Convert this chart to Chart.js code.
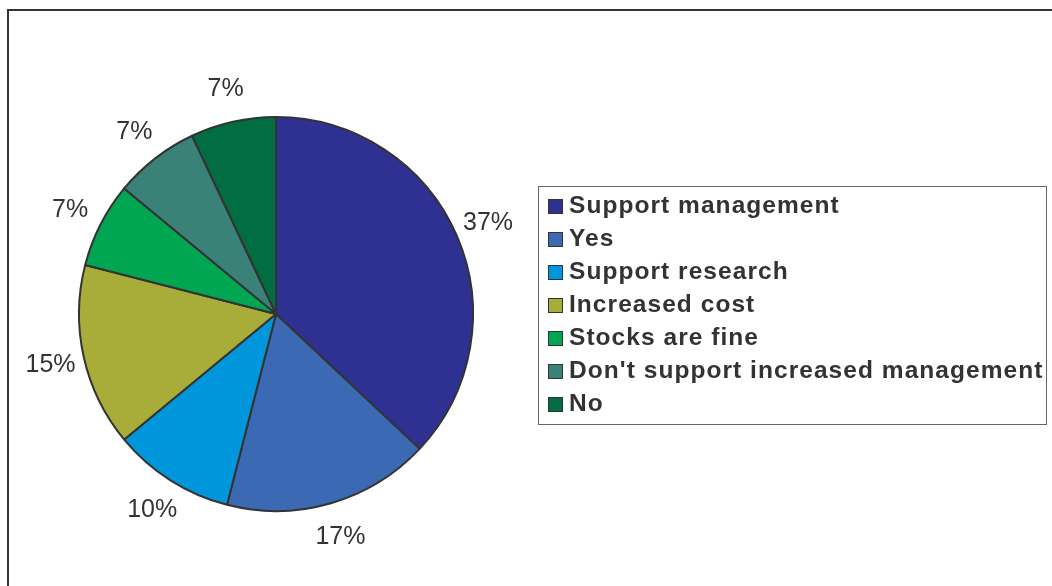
<!DOCTYPE html>
<html>
<head>
<meta charset="utf-8">
<script src="https://cdn.jsdelivr.net/npm/chart.js@4.4.1/dist/chart.umd.min.js"></script>
<style>
    html, body { margin: 0; padding: 0; background: #fff; }
    body { width: 1052px; height: 586px; position: relative; overflow: hidden; font-family: "Liberation Sans", Arial, sans-serif; }
    .frame { position: absolute; left: 7px; top: 9px; width: 1100px; height: 700px; border: 2px solid #333; box-sizing: border-box; }
    #chart-wrap { position: absolute; left: 0; top: 0; width: 1052px; height: 586px; }
    .legend { position: absolute; left: 538px; top: 186px; width: 509px; height: 239px; border: 1px solid #666; box-sizing: border-box; padding-top: 1px; }
    .legend-item { height: 33px; display: flex; align-items: center; color: #333; font-weight: bold; font-size: 24.5px; letter-spacing: 1.05px; white-space: nowrap; }
    .legend-swatch { width: 13px; height: 13px; border: 1.5px solid #333; margin-left: 9px; margin-right: 6px; margin-top: 4px; flex: none; }
</style>
</head>
<body>
<div class="frame"></div>
<div id="chart-wrap"><canvas id="pieChart"></canvas></div>
<div class="legend" id="legend"></div>

<script>
const labels = ['Support management', 'Yes', 'Support research', 'Increased cost', 'Stocks are fine', "Don't support increased management", 'No'];
const shares = [37, 17, 10, 15, 7, 7, 7];
const sliceColors = ['#2e3192', '#3c69b3', '#0096db', '#a8ad3a', '#00a651', '#3a8277', '#006e42'];

// percentage text just outside each slice
const outsideLabels = {
    id: 'outsideLabels',
    afterDatasetsDraw(chart) {
        const ctx = chart.ctx;
        const meta = chart.getDatasetMeta(0);
        ctx.save();
        ctx.font = '25px "Liberation Sans", Arial, sans-serif';
        ctx.fillStyle = '#333';
        ctx.textAlign = 'center';
        ctx.textBaseline = 'middle';
        meta.data.forEach((arc, i) => {
            const p = arc.getProps(['x', 'y', 'startAngle', 'endAngle', 'outerRadius'], true);
            const mid = (p.startAngle + p.endAngle) / 2;
            const r = p.outerRadius + 34;
            ctx.fillText(shares[i] + '%', p.x + Math.cos(mid) * r, p.y + Math.sin(mid) * r + 1);
        });
        ctx.restore();
    }
};

document.addEventListener('DOMContentLoaded', () => {
    const ctx = document.getElementById('pieChart').getContext('2d');
    new Chart(ctx, {
        type: 'pie',
        data: {
            labels: labels,
            datasets: [{
                data: shares,
                backgroundColor: sliceColors,
                borderColor: '#333',
                borderWidth: 2
            }]
        },
        options: {
            responsive: true,
            maintainAspectRatio: false,
            animation: false,
            radius: 197,
            layout: { padding: { left: 60, right: 560, top: 60, bottom: 18 } },
            plugins: {
                legend: { display: false },
                tooltip: { enabled: false }
            }
        },
        plugins: [outsideLabels]
    });

    // legend box built from the same arrays
    const legendEl = document.getElementById('legend');
    let html = '';
    labels.forEach((name, i) => {
        html += `<div class="legend-item"><span class="legend-swatch" style="background:${sliceColors[i]}"></span>${name}</div>`;
    });
    legendEl.innerHTML = html;
});
</script>
</body>
</html>
